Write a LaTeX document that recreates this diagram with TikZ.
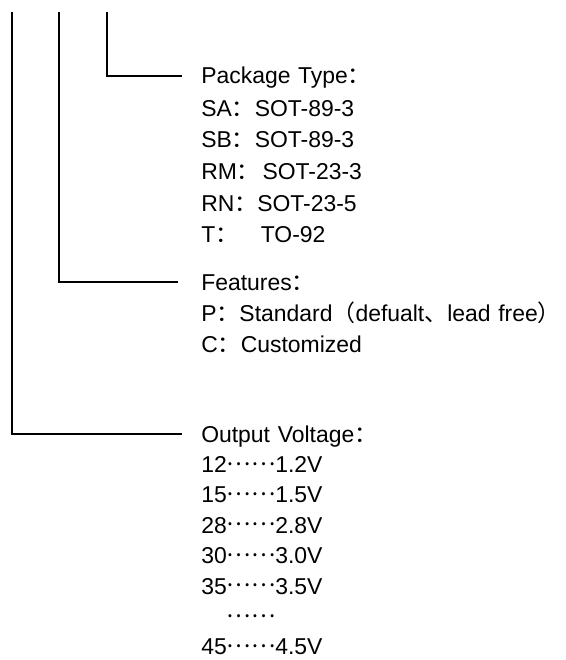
\documentclass[tikz,border=0pt]{standalone}
\usepackage{fontspec}
\setmainfont{Liberation Sans}
\newfontfamily\cjk{Noto Sans CJK SC}
\usetikzlibrary{positioning}

\newcommand{\fc}{{\cjk ：}}
\newcommand{\fd}{\raisebox{0.32em}{\cjk ……}}

\begin{document}
\begin{tikzpicture}[
    x=0.75pt, y=-0.75pt,
    node distance=4.4pt,
    font=\fontsize{17.2pt}{22.9pt}\selectfont,
    % Styles
    row/.style={
        inner sep=0pt,
        text width=275pt,
        align=left,
        text height=15pt,
        text depth=3pt
    },
    lead/.style={line width=0.9pt}
]
    \useasboundingbox (0,0) rectangle (565,660);

    % --- PACKAGE TYPE ---
    \node[row, anchor=west] (pkg) at (201,76) {Package Type\fc};
    \node[row, below=5.6pt of pkg] (sa) {SA\fc SOT-89-3};
    \node[row, below=5.4pt of sa] (sb) {SB\fc SOT-89-3};
    \node[row, below=5.4pt of sb] (rm) {RM\fc\hspace{2pt}SOT-23-3};
    \node[row, below=5.4pt of rm] (rn) {RN\fc SOT-23-5};
    \node[row, below=5.4pt of rn] (to) {T\fc\hspace{17pt}TO-92};

    % --- FEATURES ---
    \node[row, anchor=west] (feat) at (201,282) {Features\fc};
    \node[row, below=5pt of feat] (std) {P\fc Standard{\cjk （}defualt{\cjk 、}lead free{\cjk ）}};
    \node[row, below=5pt of std] (cus) {C\fc Customized};

    % --- OUTPUT VOLTAGE ---
    \node[row, anchor=west] (out) at (201,434) {Output Voltage\fc};
    \node[row, below=of out] (v12) {12\fd 1.2V};
    \node[row, below=of v12] (v15) {15\fd 1.5V};
    \node[row, below=of v15] (v28) {28\fd 2.8V};
    \node[row, below=of v28] (v30) {30\fd 3.0V};
    \node[row, below=of v30] (v35) {35\fd 3.5V};
    \node[row, below=of v35] (vdots) {\phantom{45}\fd};
    \node[row, below=of vdots] (v45) {45\fd 4.5V};

    % --- LEADERS ---
    \coordinate (pkgtop) at (107,12);
    \coordinate (feattop) at (59,12);
    \coordinate (outtop) at (12,12);
    \draw[lead] (pkgtop) |- ([xshift=-14pt]pkg.west);
    \draw[lead] (feattop) |- ([xshift=-17pt]feat.west);
    \draw[lead] (outtop) |- ([xshift=-14pt]out.west);

\end{tikzpicture}
\end{document}
